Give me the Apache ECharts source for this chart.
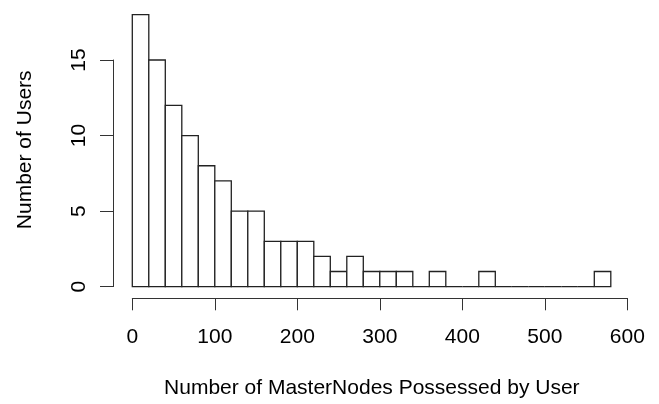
<!DOCTYPE html>
<html>
<head>
<meta charset="utf-8">
<script src="https://cdn.jsdelivr.net/npm/echarts@6/dist/echarts.min.js"></script>
<style>html,body{margin:0;padding:0;background:#fff}#c{width:659px;height:404px}</style>
</head>
<body>
<div id="c"></div>
<script>
// Histogram bins (MasterNodes per user) and counts
var binStarts = [0,20,40,60,80,100,120,140,160,180,200,220,240,260,280,300,320,340,360,380,400,420,440,460,480,500,520,540,560];
var binEnds   = [20,40,60,80,100,120,140,160,180,200,220,240,260,280,300,320,340,360,380,400,420,440,460,480,500,520,540,560,580];
var counts    = [18,15,12,10,8,7,5,5,3,3,3,2,1,2,1,1,1,0,1,0,0,1,0,0,0,0,0,0,1];
var xTicks = [0,100,200,300,400,500,600];
var yTicks = [0,5,10,15];
var xTitle = 'Number of MasterNodes Possessed by User';
var yTitle = 'Number of Users';

var data = binStarts.map(function(s,i){ return [s, binEnds[i], counts[i]]; });
var font = '"Liberation Sans", Arial, Helvetica, sans-serif';
var chart = echarts.init(document.getElementById('c'), null, {renderer:'canvas'});
chart.setOption({
  animation:false,
  backgroundColor:'#fff',
  grid:{left:132.3, top:60, width:495, height:229.3, containLabel:false},
  xAxis:{
    type:'value', min:xTicks[0], max:xTicks[xTicks.length-1], interval:100, offset:11.4,
    axisLine:{show:true, onZero:false, lineStyle:{color:'#333', width:1}},
    axisTick:{show:true, inside:false, length:12.3, lineStyle:{color:'#333', width:1}},
    axisLabel:{show:true, margin:28.5, color:'#000', fontSize:21, fontFamily:font, showMinLabel:true, showMaxLabel:true},
    splitLine:{show:false},
    name:xTitle, nameLocation:'middle', nameGap:80,
    nameTextStyle:{color:'#000', fontSize:21, fontFamily:font, padding:[0,16,0,0]}
  },
  yAxis:{
    type:'value', min:yTicks[0], max:yTicks[yTicks.length-1], interval:5, offset:19,
    axisLine:{show:true, onZero:false, lineStyle:{color:'#333', width:1}},
    axisTick:{show:true, inside:false, length:13.3, lineStyle:{color:'#333', width:1}},
    axisLabel:{show:true, rotate:90, margin:24, color:'#000', fontSize:21, fontFamily:font, showMinLabel:true, showMaxLabel:true},
    splitLine:{show:false},
    name:yTitle, nameLocation:'middle', nameGap:78, nameRotate:90,
    nameTextStyle:{color:'#000', fontSize:21, fontFamily:font, padding:[0,0,0,47]}
  },
  series:[{
    type:'custom',
    clip:false,
    data:data,
    encode:{x:[0,1], y:2},
    renderItem:function(params, api){
      var p0 = api.coord([api.value(0), api.value(2)]);
      var p1 = api.coord([api.value(1), 0]);
      return {
        type:'rect',
        shape:{x:p0[0], y:p0[1], width:p1[0]-p0[0], height:p1[1]-p0[1]},
        style:{fill:'#fff', stroke:'#222', lineWidth:1.3}
      };
    }
  }]
});
</script>
</body>
</html>
